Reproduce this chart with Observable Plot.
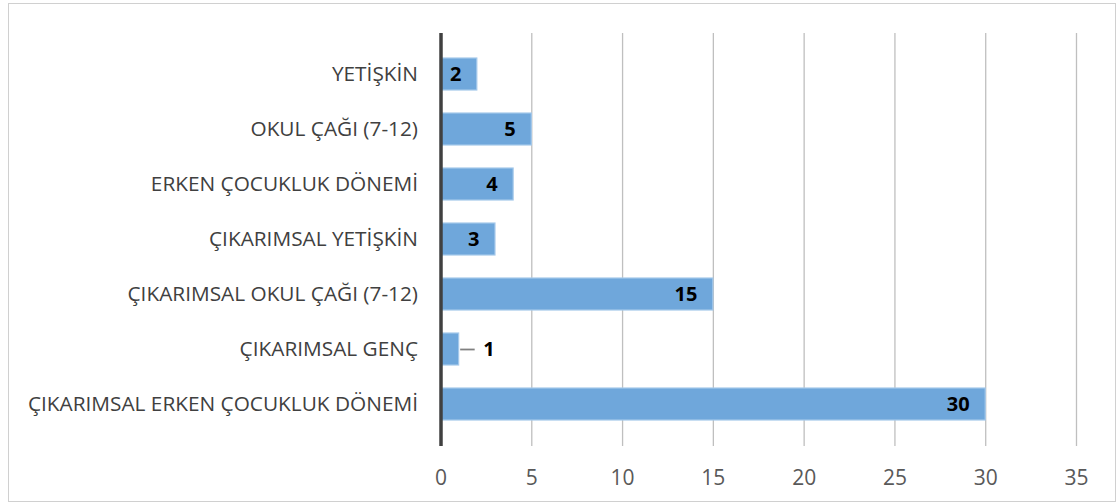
<!DOCTYPE html>
<html><head><meta charset="utf-8">
<script src="https://cdn.jsdelivr.net/npm/d3@7"></script>
<script src="https://cdn.jsdelivr.net/npm/@observablehq/plot@0.6"></script>
<style>
body{margin:0;background:#fff;}
#wrap{position:relative;width:1119px;height:504px;}
#frame{position:absolute;left:8px;top:3px;width:1108px;height:499px;border:1.5px solid #d0d0d0;box-sizing:border-box;}
#chart{position:absolute;left:0;top:0;}
</style></head>
<body><div id="wrap"><div id="frame"></div><div id="chart"></div></div>
<script>
const categories = ["YETİŞKİN","OKUL ÇAĞI (7-12)","ERKEN ÇOCUKLUK DÖNEMİ","ÇIKARIMSAL YETİŞKİN","ÇIKARIMSAL OKUL ÇAĞI (7-12)","ÇIKARIMSAL GENÇ","ÇIKARIMSAL ERKEN ÇOCUKLUK DÖNEMİ"];
const values = [2,5,4,3,15,1,30];
const xTicks = [0,5,10,15,20,25,30,35];

const data = categories.map((c,i)=>({cat:c, value:values[i]}));
const inside = data.filter(d=>d.value>=2);
const outside = data.filter(d=>d.value<2);
const font = "'Open Sans', sans-serif";

const chart = Plot.plot({
  width:1119, height:504,
  marginLeft:440.5, marginRight:43, marginTop:33, marginBottom:58,
  style:{fontFamily:font, background:"transparent"},
  x:{domain:[0,35], label:null},
  y:{domain:categories, padding:0.415, label:null},
  marks:[
    Plot.ruleX(xTicks.filter(t=>t>0), {stroke:"#bfbfbf", strokeWidth:1.3}),
    Plot.barX(data, {y:"cat", x:"value", fill:"#6fa7db", stroke:"#a4c8ea", strokeWidth:1.2}),
    Plot.ruleX([0], {stroke:"#404040", strokeWidth:3.5}),
    Plot.axisX({ticks:xTicks, tickSize:0, tickPadding:24, fontSize:21, fill:"#595959", label:null}),
    Plot.axisY({tickSize:0, tickPadding:23, fontSize:20.8, fill:"#404040", label:null}),
    Plot.text(inside, {y:"cat", x:"value", text:d=>String(d.value), textAnchor:"end", dx:-16, fontWeight:"bold", fontSize:20, fill:"#000"}),
    Plot.link(outside, {y1:"cat", y2:"cat", x1:d=>d.value, x2:d=>d.value+0.8, stroke:"#808080", strokeWidth:1.8, dx:1}),
    Plot.text(outside, {y:"cat", x:"value", text:d=>String(d.value), textAnchor:"start", dx:24, fontWeight:"bold", fontSize:20, fill:"#000"})
  ]
});
document.getElementById("chart").appendChild(chart);
</script>
</body></html>
